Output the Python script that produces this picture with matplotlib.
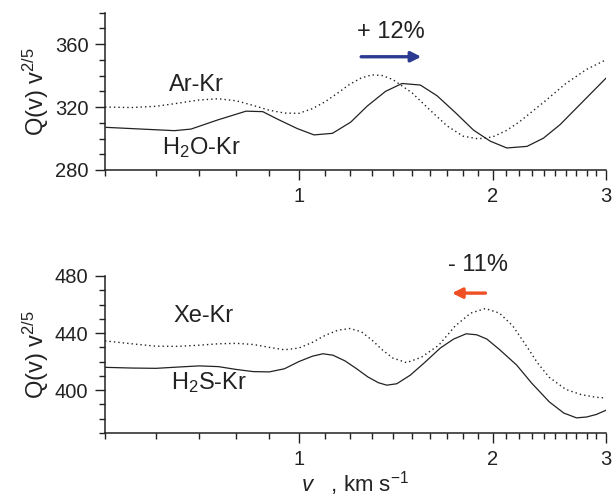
import numpy as np
import matplotlib.pyplot as plt
from matplotlib.ticker import FixedLocator, FixedFormatter, NullFormatter

plt.rcParams['font.family'] = ['Liberation Sans', 'DejaVu Sans']
plt.rcParams['mathtext.fontset'] = 'custom'
plt.rcParams['mathtext.rm'] = 'Liberation Sans'
plt.rcParams['mathtext.it'] = 'Liberation Sans:italic'

# top panel: Ar-Kr (dotted) and H2O-Kr (solid)
v_ar = [0.5, 0.55, 0.6, 0.65, 0.7, 0.75, 0.8, 0.85, 0.9, 0.95, 1.0, 1.05, 1.1,
        1.15, 1.2, 1.25, 1.3, 1.35, 1.4, 1.5, 1.6, 1.7, 1.8, 1.9, 2.0, 2.1,
        2.2, 2.4, 2.6, 2.8, 3.0]
q_ar = [320, 319.7, 320.5, 322.5, 324.5, 325.3, 324, 321, 318, 316.2, 316,
        319, 323.5, 329, 334.5, 338.5, 340.5, 340, 337.5, 329, 318, 308,
        301.5, 299.8, 301, 305, 310.5, 323, 335, 344, 350]

v_h2o = [0.502, 0.641, 0.68, 0.748, 0.828, 0.879, 0.927, 0.995, 1.056, 1.128,
         1.204, 1.278, 1.364, 1.447, 1.545, 1.64, 1.751, 1.869, 1.984, 2.105,
         2.262, 2.399, 2.546, 3.0]
q_h2o = [307.1, 305, 306, 311.8, 317.4, 317.1, 312.3, 306.3, 302.3, 303.3,
         310.4, 320.7, 330, 335, 334, 327.2, 316.5, 305.3, 298.3, 294,
         295, 300.2, 308.8, 338.3]

# bottom panel: Xe-Kr (dotted) and H2S-Kr (solid)
v_xe = [0.5, 0.55, 0.6, 0.65, 0.7, 0.75, 0.8, 0.85, 0.9, 0.95, 1.0, 1.05, 1.1,
        1.15, 1.2, 1.25, 1.3, 1.35, 1.4, 1.47, 1.55, 1.65, 1.75, 1.85, 1.95,
        2.05, 2.15, 2.25, 2.35, 2.45, 2.6, 2.75, 2.9, 3.0]
q_xe = [434.5, 432.5, 430.8, 430.7, 431.5, 432.5, 432.8, 432, 430, 428.3,
        429.5, 433.5, 438.5, 442, 443.2, 441, 435, 428, 422.5, 419.3, 423,
        431.5, 445, 454, 457.2, 454, 445, 432, 419, 409, 400.5, 396.8, 395,
        394.5]

v_h2s = [0.5, 0.55, 0.6, 0.65, 0.7, 0.75, 0.8, 0.85, 0.9, 0.95, 1.0, 1.05,
         1.09, 1.13, 1.18, 1.23, 1.28, 1.33, 1.37, 1.42, 1.49, 1.57, 1.66,
         1.74, 1.82, 1.89, 1.96, 2.05, 2.18, 2.3, 2.45, 2.58, 2.7, 2.8, 2.9,
         3.0]
q_h2s = [416, 415.5, 415.3, 416.2, 417, 416.5, 414.5, 413, 412.8, 415, 420,
         423.8, 425.5, 424.5, 420.5, 415, 409.3, 405.2, 403.5, 404.5, 410.5,
         419.5, 429.6, 435.8, 439.5, 438.8, 435.8, 428.5, 417.6, 405, 391.8,
         384, 380.6, 381.2, 383, 385.9]

major_x = [1, 2, 3]
minor_x = [0.5, 0.6, 0.7, 0.8, 0.9] + [1 + 0.1 * i for i in range(1, 10)] \
    + [2 + 0.1 * i for i in range(1, 10)]

ink = '#222222'
fig = plt.figure(figsize=(6.12, 4.97), dpi=100)
ax1 = fig.add_axes([0.1716, 0.658, 0.8184, 0.3164])
ax2 = fig.add_axes([0.1716, 0.1288, 0.8184, 0.3159])

dotted = (0, (1, 2.2))
ax1.plot(v_ar, q_ar, color=ink, lw=1.0, ls=dotted)
ax1.plot(v_h2o, q_h2o, color=ink, lw=0.9)
ax2.plot(v_xe, q_xe, color=ink, lw=1.0, ls=dotted)
ax2.plot(v_h2s, q_h2s, color=ink, lw=0.9)

ax1.set_ylim(280, 380)
ax1.set_yticks([280, 320, 360])
ax1.set_yticks(np.arange(280, 381, 10), minor=True)
ax2.set_ylim(370, 480)
ax2.set_yticks([400, 440, 480])
ax2.set_yticks(np.arange(370, 481, 10), minor=True)

for ax in (ax1, ax2):
    ax.set_xscale('log')
    ax.set_xlim(0.5, 3)
    ax.xaxis.set_major_locator(FixedLocator(major_x))
    ax.xaxis.set_major_formatter(FixedFormatter([str(m) for m in major_x]))
    ax.xaxis.set_minor_locator(FixedLocator(minor_x))
    ax.xaxis.set_minor_formatter(NullFormatter())
    ax.spines['top'].set_visible(False)
    ax.spines['right'].set_visible(False)
    for s in ('left', 'bottom'):
        ax.spines[s].set_linewidth(1.1)
        ax.spines[s].set_color(ink)
    ax.tick_params(which='major', length=7, width=1.0, labelsize=14.5,
                   colors=ink, pad=5)
    ax.tick_params(which='minor', length=4, width=1.0, colors=ink)
    ax.set_ylabel(r'Q(v) v$^{2/5}$', fontsize=17, color=ink, labelpad=3)

ax2.set_xlabel(r'$\mathit{v}$   , km s$^{-1}$', fontsize=16, color=ink,
               labelpad=0)

# curve labels
ax1.text(0.693, 334, 'Ar-Kr', fontsize=17, ha='center', va='center', color=ink)
ax1.text(0.705, 294, r'H$_2$O-Kr', fontsize=17, ha='center', va='center', color=ink)
ax2.text(0.71, 452, 'Xe-Kr', fontsize=17, ha='center', va='center', color=ink)
ax2.text(0.725, 405, r'H$_2$S-Kr', fontsize=17, ha='center', va='center', color=ink)

# shift annotations
ax1.text(1.392, 368, '+ 12%', fontsize=17, ha='center', va='center', color=ink)
ax1.annotate('', xy=(1.55, 352), xytext=(1.25, 352),
             arrowprops=dict(arrowstyle='-|>', color='#2b3990', lw=2.4,
                             mutation_scale=15, shrinkA=0, shrinkB=0))
ax2.text(1.9, 488, '- 11%', fontsize=17, ha='center', va='center', color=ink,
         clip_on=False)
ax2.annotate('', xy=(1.73, 468), xytext=(1.95, 468),
             arrowprops=dict(arrowstyle='-|>', color='#f04e23', lw=2.4,
                             mutation_scale=15, shrinkA=0, shrinkB=0))

fig.savefig('out.png', dpi=100)
